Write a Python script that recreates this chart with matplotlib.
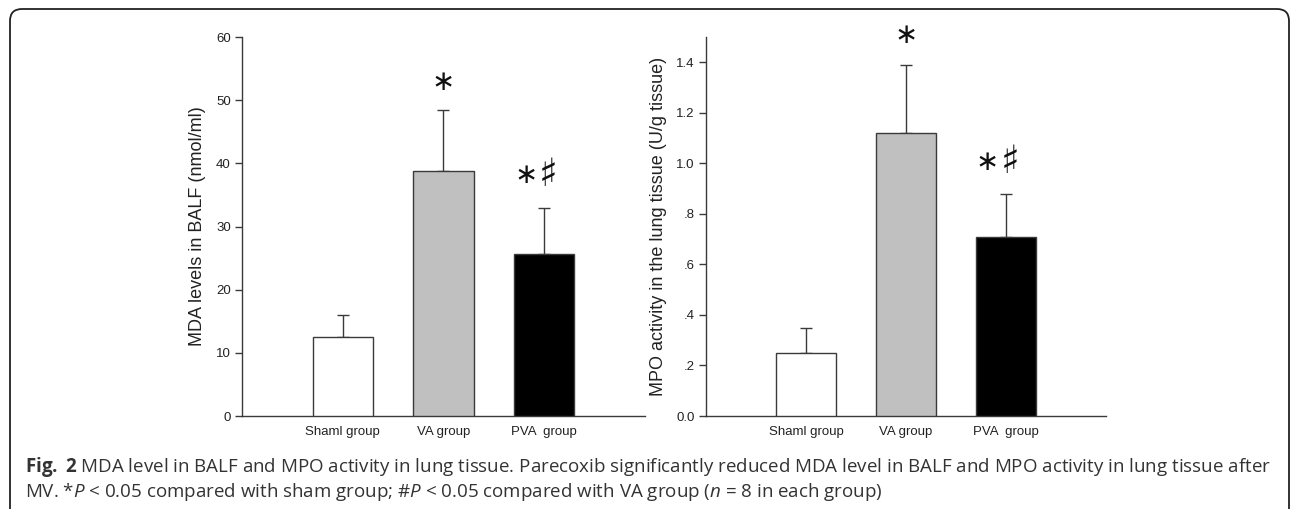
import matplotlib
matplotlib.use('Agg')
import matplotlib.pyplot as plt
from matplotlib.patches import FancyBboxPatch
from matplotlib.transforms import IdentityTransform

groups = ['Shaml group', 'VA group', 'PVA  group']
mda_mean = [12.5, 38.8, 25.6]
mda_err = [3.5, 9.7, 7.4]
mpo_mean = [0.25, 1.12, 0.71]
mpo_err = [0.10, 0.27, 0.17]
star = [False, True, True]
sharp = [False, False, True]
mda_ticks = [0, 10, 20, 30, 40, 50, 60]
mpo_ticks = [0.0, 0.2, 0.4, 0.6, 0.8, 1.0, 1.2, 1.4]
mpo_ticklabels = ['0.0', '.2', '.4', '.6', '.8', '1.0', '1.2', '1.4']
bar_colors = ['white', '#c0c0c0', 'black']

plt.rcParams['mathtext.fontset'] = 'custom'
plt.rcParams['mathtext.rm'] = 'Open Sans'
plt.rcParams['mathtext.it'] = 'Open Sans:italic'
plt.rcParams['mathtext.bf'] = 'Open Sans:bold'

tickfont = ['Liberation Sans', 'DejaVu Sans']
axc = '#3a3a3a'

fig = plt.figure(figsize=(12.92, 5.09), dpi=100)
ax1 = fig.add_axes([0.1873, 0.1827, 0.3119, 0.7446])
ax2 = fig.add_axes([0.5464, 0.1827, 0.3096, 0.7446])

pos = [1, 2, 3]


def draw(ax, means, errs, ymax, ticks, ticklabels, ylabel, mark_y):
    ax.bar(pos, means, width=0.6, color=bar_colors, edgecolor=axc, linewidth=1.0, zorder=3)
    ax.errorbar(pos, means, yerr=[[0] * 3, errs], fmt='none', ecolor=axc,
                elinewidth=1.0, capsize=4, capthick=1.0, zorder=2)
    ax.set_xlim(0, 4)
    ax.set_ylim(0, ymax)
    for s in ['top', 'right']:
        ax.spines[s].set_visible(False)
    for s in ['left', 'bottom']:
        ax.spines[s].set_color(axc)
        ax.spines[s].set_linewidth(1.0)
    ax.set_yticks(ticks)
    ax.set_yticklabels(ticklabels, family=tickfont, fontsize=9.5, color='#222222')
    ax.set_xticks(pos)
    ax.set_xticklabels(groups, family=tickfont, fontsize=9.5, color='#222222')
    ax.tick_params(axis='y', direction='out', length=5, width=1.0, color=axc, pad=3)
    ax.tick_params(axis='x', length=0, pad=7)
    ax.set_ylabel(ylabel, family=tickfont, fontsize=13, color='#222222', labelpad=7)
    for p, s1, s2, y in zip(pos, star, sharp, mark_y):
        if s1 and not s2:
            ax.text(p, y, '\u2217', ha='center', va='center', fontsize=20,
                    family='DejaVu Sans', color='#111111', clip_on=False)
        if s1 and s2:
            ax.annotate('\u2217', (p, y), xytext=(-5, 0), textcoords='offset points',
                        ha='right', va='center', fontsize=20,
                        family='DejaVu Sans', color='#111111', annotation_clip=False)
            ax.annotate('\u266f', (p, y), xytext=(-4, 0), textcoords='offset points',
                        ha='left', va='center', fontsize=28,
                        family='DejaVu Sans', color='#111111', annotation_clip=False)


draw(ax1, mda_mean, mda_err, 60, mda_ticks, [str(t) for t in mda_ticks],
     'MDA levels in BALF (nmol/ml)', [0, 52.9, 38.2])
draw(ax2, mpo_mean, mpo_err, 1.5, mpo_ticks, mpo_ticklabels,
     'MPO activity in the lung tissue (U/g tissue)', [0, 1.508, 1.005])

# caption
cap1 = r'$\mathbf{Fig.}$ $\mathbf{2}$ MDA level in BALF and MPO activity in lung tissue. Parecoxib significantly reduced MDA level in BALF and MPO activity in lung tissue after'
cap2 = r'MV. *$P$ < 0.05 compared with sham group; #$P$ < 0.05 compared with VA group ($n$ = 8 in each group)'
fig.text(25 / 1292, 1 - 467 / 509, cap1, family='Open Sans', fontsize=13.5, color='#333333', va='center')
fig.text(25 / 1292, 1 - 492 / 509, cap2, family='Open Sans', fontsize=13.5, color='#333333', va='center')

# open rounded frame
frame = FancyBboxPatch((10, -40), 1279, 540, boxstyle='round,pad=0,rounding_size=12',
                       transform=IdentityTransform(), fill=False, edgecolor='#222222',
                       linewidth=1.3)
fig.patches.append(frame)

plt.savefig('out.png', dpi=100)
